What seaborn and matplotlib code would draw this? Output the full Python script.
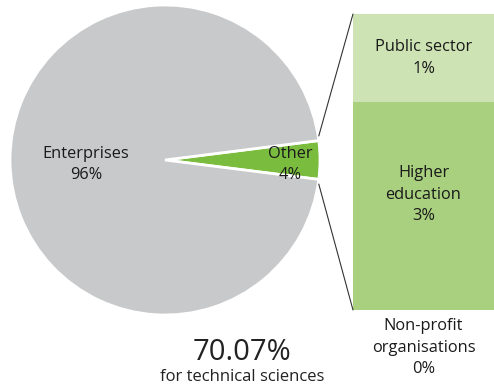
import matplotlib
matplotlib.use('Agg')
import matplotlib.pyplot as plt
import seaborn as sns
import numpy as np
from matplotlib.patches import ConnectionPatch

# pie data
pie_labels = ['Other', 'Enterprises']
pie_values = [4, 96]
pie_colors = ['#7abc3e', '#c8c9ca']

# breakdown of "Other"
bar_labels = ['Non-profit\norganisations', 'Higher\neducation', 'Public sector']
bar_values = [0.01, 2.8, 1.19]
bar_pct = ['0%', '3%', '1%']
bar_colors = ['#a8d07e', '#a8d07e', '#cde3b3']

sns.set_theme(style='white')
plt.rcParams['font.family'] = ['Open Sans', 'DejaVu Sans']
txt = '#1a1a1a'
fs = 11.8
ls = 1.45

fig = plt.figure(figsize=(4.94, 3.85), dpi=100)

# pie axes
ax = fig.add_axes([10 / 494, 70 / 385, 310 / 494, 310 / 385])
start = -pie_values[0] / sum(pie_values) * 180
wedges, _ = ax.pie(pie_values, colors=pie_colors, startangle=start, counterclock=True,
                   wedgeprops=dict(edgecolor='white', linewidth=2))
ax.set_xlim(-1, 1)
ax.set_ylim(-1, 1)
ax.set_aspect('equal')
ax.axis('off')

ax.text(-0.51, -0.03, f'{pie_labels[1]}\n{pie_values[1]}%', ha='center', va='center',
        fontsize=fs, color=txt, linespacing=ls)
ax.text(0.81, -0.03, f'{pie_labels[0]}\n{pie_values[0]}%', ha='center', va='center',
        fontsize=fs, color=txt, linespacing=ls)

# bar axes
bax = fig.add_axes([353 / 494, 75 / 385, 141 / 494, 296 / 385])
bottom = 0
for val, lab, pct, col in zip(bar_values, bar_labels, bar_pct, bar_colors):
    bax.bar(0, val, width=1, bottom=bottom, color=col, linewidth=0)
    if val > 0.5:
        lift = 8 if val > 2 else 0
        bax.annotate(f'{lab}\n{pct}', (0, bottom + val / 2), xytext=(0, lift),
                     textcoords='offset points', ha='center', va='center',
                     fontsize=fs, color=txt, linespacing=ls)
    bottom += val
total = bottom
bax.set_xlim(-0.5, 0.5)
bax.set_ylim(0, total)
bax.axis('off')

# label for the empty segment under the bar
bax.annotate(f'{bar_labels[0]}\n{bar_pct[0]}', (0, 0), xytext=(0, -6),
             textcoords='offset points', ha='center', va='top',
             fontsize=fs, color=txt, linespacing=ls, annotation_clip=False)

# connection lines
theta1, theta2 = wedges[0].theta1, wedges[0].theta2
for th, yb in [(theta2, total), (theta1, 0)]:
    x = np.cos(np.radians(th))
    y = np.sin(np.radians(th))
    con = ConnectionPatch(xyA=(-0.5, yb), coordsA=bax.transData,
                          xyB=(x, y + (0.03 if yb else -0.03)), coordsB=ax.transData,
                          color='#333333', linewidth=0.8)
    fig.add_artist(con)

# summary text
fig.text(242 / 494, 1 - 352 / 385, '70.07%', ha='center', va='center', fontsize=21, color='#222222')
fig.text(242 / 494, 1 - 377 / 385, 'for technical sciences', ha='center', va='center',
         fontsize=12, color='#222222')

fig.savefig('out.png', dpi=100)
